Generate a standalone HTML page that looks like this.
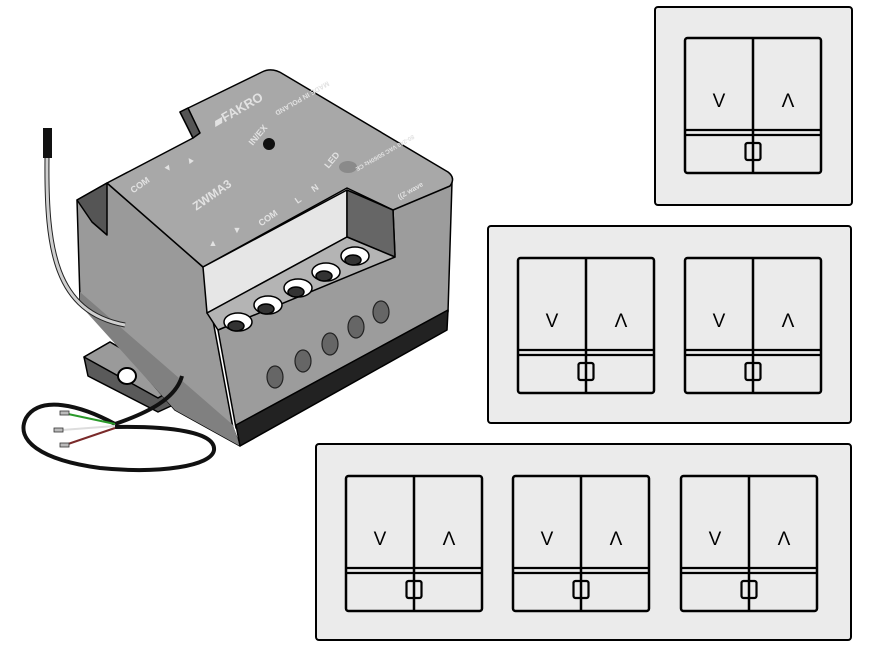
<!DOCTYPE html>
<html><head><meta charset="utf-8"><style>
html,body{margin:0;padding:0;background:#fff;}
svg{display:block;}
text{font-family:"Liberation Sans",sans-serif;}
</style></head><body>
<svg width="889" height="652" viewBox="0 0 889 652" xmlns="http://www.w3.org/2000/svg">
<defs>
<g id="sw">
<rect x="0" y="0" width="136" height="135" rx="2.5" fill="#ebebeb" stroke="#000" stroke-width="2.5"/>
<line x1="68" y1="0" x2="68" y2="135" stroke="#000" stroke-width="2.5"/>
<line x1="0" y1="92" x2="136" y2="92" stroke="#000" stroke-width="2.2"/>
<line x1="0" y1="97" x2="136" y2="97" stroke="#000" stroke-width="2.2"/>
<rect x="60.5" y="105" width="15" height="17" rx="2" fill="none" stroke="#000" stroke-width="2.2"/>
<text x="34" y="69" font-size="19" text-anchor="middle" fill="#000">V</text>
<text x="103" y="69" font-size="19" text-anchor="middle" fill="#000">Λ</text>
</g>
</defs>

<rect x="655" y="7" width="197" height="198" rx="3" fill="#ebebeb" stroke="#000" stroke-width="2"/>
<use href="#sw" x="685" y="38"/>
<rect x="488" y="226" width="363" height="197" rx="3" fill="#ebebeb" stroke="#000" stroke-width="2"/>
<use href="#sw" x="518" y="258"/>
<use href="#sw" x="685" y="258"/>
<rect x="316" y="444" width="535" height="196" rx="3" fill="#ebebeb" stroke="#000" stroke-width="2"/>
<use href="#sw" x="346" y="476"/>
<use href="#sw" x="513" y="476"/>
<use href="#sw" x="681" y="476"/>

<g stroke="#000" stroke-width="1.5" stroke-linejoin="round">
<polygon points="84,357 110,342 182,384 184,400 158,412 88,376" fill="#5a5a5a"/>
<polygon points="84,357 110,342 182,384 158,398" fill="#9a9a9a"/>
<ellipse cx="127" cy="376" rx="9" ry="8" fill="#fff" stroke-width="2"/>
<polygon points="77,200 107,183 203,267 233,428 240,446 175,410 80,300" fill="#9a9a9a"/>
<polygon points="80,292 233,425 240,446 175,410 80,305" fill="#808080" stroke="none"/>
<polygon points="218,330 395,255 393,210 452,182 448,312 236,428" fill="#9c9c9c"/>
<polygon points="236,425 448,310 447,330 240,446" fill="#222"/>
<path d="M107,183 L193,138 L180,112 L262,72 Q272,67 283,74 L448,172 Q456,178 450,186 L393,210 L347,188 L203,267 Z" fill="#a8a8a8"/>
<polygon points="77,200 107,183 107,235 92,222" fill="#555"/>
<polygon points="180,112 193,138 200,133 188,108" fill="#555"/>
<polygon points="203,267 347,190 347,237 207,313" fill="#e6e6e6"/>
<polygon points="347,190 393,210 395,257 347,237" fill="#666"/>
<polygon points="207,313 347,237 395,257 218,330" fill="#b4b4b4"/>
</g>
<g stroke="#000" stroke-width="1.5">
<ellipse cx="238" cy="322" rx="14" ry="9" fill="#fff"/><ellipse cx="236" cy="326" rx="8" ry="5" fill="#333"/>
<ellipse cx="268" cy="305" rx="14" ry="9" fill="#fff"/><ellipse cx="266" cy="309" rx="8" ry="5" fill="#333"/>
<ellipse cx="298" cy="288" rx="14" ry="9" fill="#fff"/><ellipse cx="296" cy="292" rx="8" ry="5" fill="#333"/>
<ellipse cx="326" cy="272" rx="14" ry="9" fill="#fff"/><ellipse cx="324" cy="276" rx="8" ry="5" fill="#333"/>
<ellipse cx="355" cy="256" rx="14" ry="9" fill="#fff"/><ellipse cx="353" cy="260" rx="8" ry="5" fill="#333"/>
</g>
<g fill="#666" stroke="#222" stroke-width="1.2">
<ellipse cx="275" cy="377" rx="8" ry="11"/>
<ellipse cx="303" cy="361" rx="8" ry="11"/>
<ellipse cx="330" cy="344" rx="8" ry="11"/>
<ellipse cx="356" cy="327" rx="8" ry="11"/>
<ellipse cx="381" cy="312" rx="8" ry="11"/>
</g>
<circle cx="269" cy="144" r="6" fill="#111"/>
<ellipse cx="348" cy="167" rx="9" ry="6" fill="#8a8a8a"/>
<g fill="#e2e2e2" font-weight="bold">
<text x="238" y="114" font-size="13" text-anchor="middle" transform="rotate(-30 238 110)">▰FAKRO</text>
<text x="302" y="100" font-size="7" text-anchor="middle" transform="rotate(150 302 98)">MADE IN POLAND</text>
<text x="385" y="155" font-size="6" text-anchor="middle" transform="rotate(150 385 153)">80-240 VAC 50/60Hz  CE</text>
<text x="258" y="138" font-size="9" text-anchor="middle" transform="rotate(-50 258 135)">IN/EX</text>
<text x="332" y="163" font-size="9" text-anchor="middle" transform="rotate(-50 332 160)">LED</text>
<text x="212" y="199" font-size="12" text-anchor="middle" transform="rotate(-35 212 195)">ZWMA3</text>
<text x="140" y="188" font-size="9" text-anchor="middle" transform="rotate(-35 140 185)">COM</text>
<text x="168" y="171" font-size="9" text-anchor="middle" transform="rotate(-35 168 168)">▼</text>
<text x="190" y="163" font-size="9" text-anchor="middle" transform="rotate(-35 190 160)">▲</text>
<text x="268" y="221" font-size="9" text-anchor="middle" transform="rotate(-35 268 218)">COM</text>
<text x="298" y="203" font-size="9" text-anchor="middle" transform="rotate(-35 298 200)">L</text>
<text x="315" y="191" font-size="9" text-anchor="middle" transform="rotate(-35 315 188)">N</text>
<text x="213" y="246" font-size="9" text-anchor="middle">▲</text>
<text x="237" y="233" font-size="9" text-anchor="middle">▼</text>
<text x="410" y="193" font-size="7" text-anchor="middle" transform="rotate(-30 410 190)">((Z wave</text>
</g>
<rect x="43" y="128" width="9" height="30" fill="#111"/>
<path d="M47,158 C46,250 55,312 125,325" fill="none" stroke="#222" stroke-width="5"/>
<path d="M47,158 C46,250 55,312 125,325" fill="none" stroke="#cfcfcf" stroke-width="3"/>
<path d="M182,376 C176,398 150,412 115,424" fill="none" stroke="#111" stroke-width="4"/>
<path d="M115,424 C80,405 40,395 26,418 C15,440 40,460 100,468 C160,474 212,466 214,450 C216,432 170,426 115,427" fill="none" stroke="#111" stroke-width="4"/>
<line x1="115" y1="424" x2="68" y2="414" stroke="#2a9a2a" stroke-width="2"/>
<line x1="115" y1="426" x2="62" y2="430" stroke="#ddd" stroke-width="2"/>
<line x1="115" y1="428" x2="68" y2="444" stroke="#7a2a2a" stroke-width="2"/>
<g fill="#bbb" stroke="#333" stroke-width="0.8">
<rect x="60" y="411" width="9" height="4"/><rect x="54" y="428" width="9" height="4"/><rect x="60" y="443" width="9" height="4"/>
</g>
</svg>
</body></html>
